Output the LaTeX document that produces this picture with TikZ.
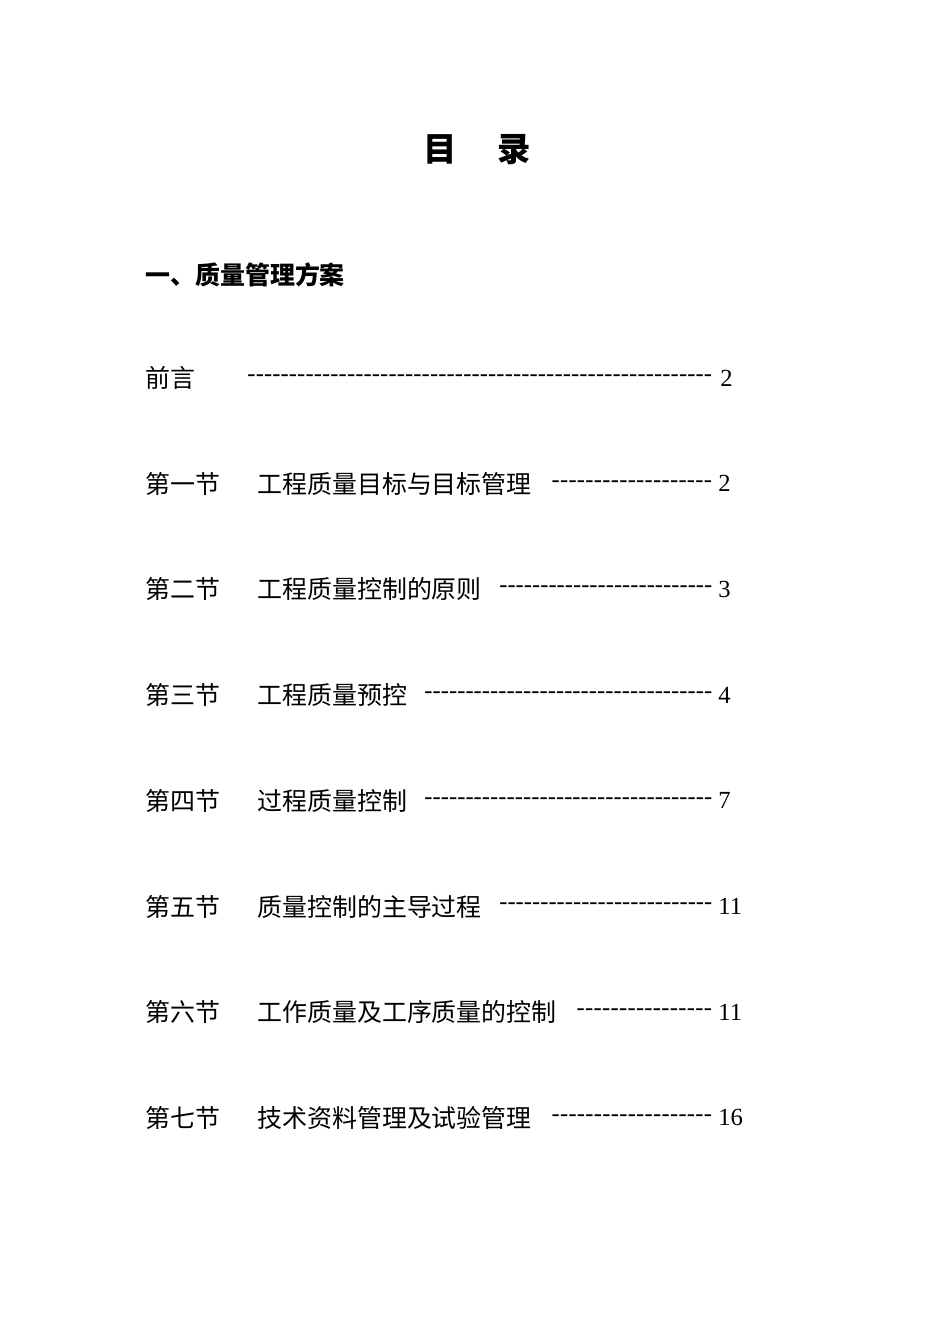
\documentclass[tikz,border=0pt]{standalone}
\usepackage{fontspec}
\setmainfont{Liberation Serif}
\newfontfamily\cjk{Noto Sans CJK SC}
\newcommand{\dotrow}[1]{\makebox[#1]{\xleaders\hbox{-}\hfill}}
\begin{document}
\begin{tikzpicture}[x=0.02cm,y=-0.02cm,
% common options for the entries:
entry/.style = {anchor=west, inner sep=0, font=\fontsize{14.2}{17}\selectfont\cjk},
num/.style = {anchor=west, inner sep=0, font=\fontsize{14}{17}\selectfont}]
\useasboundingbox (0,0) rectangle (950,1344);
\node[inner sep=0, font=\fontsize{19}{22}\selectfont\cjk\bfseries] (T) at (477,150) {目\hspace{1.2em}录};
\node[entry, font=\fontsize{14.2}{17}\selectfont\cjk\bfseries] (H) at (145,275) {一、质量管理方案};
\node[entry] (L0) at (145,378) {前言};
\node[num] (D0) at (247,378) {\dotrow{9.3cm}};
\node[num] (N0) at (720,378) {2};
\foreach \i/\lab/\ttl/\x/\n in {1/第一节/工程质量目标与目标管理/551/2,
  2/第二节/工程质量控制的原则/499/3,
  3/第三节/工程质量预控/424/4,
  4/第四节/过程质量控制/424/7,
  5/第五节/质量控制的主导过程/499/11,
  6/第六节/工作质量及工序质量的控制/576/11,
  7/第七节/技术资料管理及试验管理/551/16}{
  \pgfmathsetmacro{\yy}{378+105.7*\i}
  \pgfmathsetmacro{\ww}{(712-\x)*0.02}
  \node[entry] (L\i) at (145,\yy) {\lab};
  \node[entry] (E\i) at (257,\yy) {\ttl};
  \node[num] (D\i) at (\x,\yy) {\dotrow{\ww cm}};
  \node[num] (N\i) at (718,\yy) {\n};
}
\end{tikzpicture}
\end{document}
